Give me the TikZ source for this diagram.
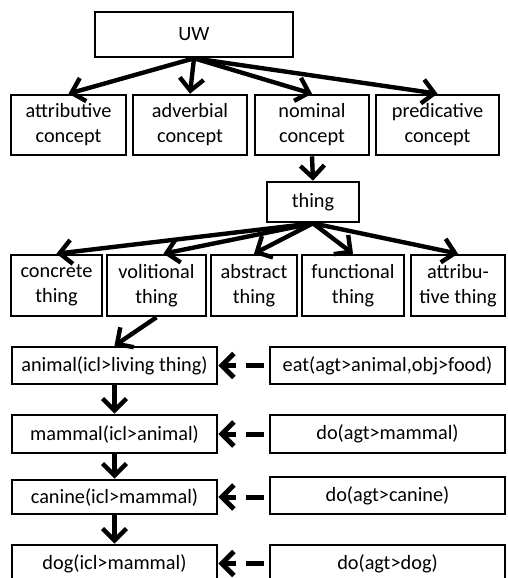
\documentclass[tikz,border=0pt]{standalone}
\usepackage{fontspec}
\setmainfont{Carlito}
\usetikzlibrary{arrows.meta,positioning}
\tikzset{
  basic/.style    = {draw, line width=2.6pt, rectangle, inner sep=0pt,
                     align=center, font=\fontsize{20.3}{25}\selectfont},
  rootbox/.style  = {basic, minimum width=198pt, minimum height=45pt},
  concept/.style  = {basic, minimum width=114pt, minimum height=60pt},
  thingbox/.style = {basic, minimum height=61pt},
  uwbox/.style    = {basic, minimum width=205pt, minimum height=37pt},
  relbox/.style   = {basic, minimum width=235pt, minimum height=37pt},
  arrow/.style    = {->, line width=4.4pt},
  dasharrow/.style = {->, line width=5pt,
                     dash pattern=on 18pt off 10pt on 40pt off 5pt,
                     dash phase=68pt}
}

\begin{document}
\begin{tikzpicture}[x=1pt, y=-1pt,
  >={Straight Barb[length=12pt,width=24pt]}]
\useasboundingbox (0,0) rectangle (507,578);
\clip (0,0) rectangle (507,578);

% root, level 1
\node[rootbox] (uw) at (194,34.5) {UW};
\node[concept, minimum width=115pt] (attr) at (68.5,125) {attributive\\concept};
\node[concept] (adv) at (190,125) {adverbial\\concept};
\node[concept] (nom) at (312,125) {nominal\\concept};
\node[concept, minimum width=123pt] (pred) at (437.5,125) {predicative\\concept};

% level 2
\node[basic, minimum width=92pt, minimum height=40pt] (thing) at (313,202) {thing};

% level 3
\node[thingbox, minimum width=91pt] (conc) at (56.5,285.5) {concrete\\thing};
\node[thingbox, minimum width=99pt] (vol) at (156.5,285.5) {volitional\\thing};
\node[thingbox, minimum width=86pt] (abst) at (254,285.5) {abstract\\thing};
\node[thingbox, minimum width=102pt] (func) at (353,285.5) {functional\\thing};
\node[thingbox, minimum width=94pt] (attrth) at (458,285.5) {attribu-\\tive thing};

% the chain of UWs and the relations pointing at them
\node[uwbox] (animal) at (114.5,365.5) {animal(icl>living thing)};
\node[uwbox, minimum height=38pt] (mammal) at (114.5,434) {mammal(icl>animal)};
\node[uwbox, minimum height=34pt] (canine) at (114.5,497) {canine(icl>mammal)};
\node[uwbox] (dog) at (114.5,563.5) {dog(icl>mammal)};

\node[relbox] (eat) at (387.5,365.5) {eat(agt>animal,obj>food)};
\node[relbox, minimum height=38pt] (domammal) at (387.5,434) {do(agt>mammal)};
\node[relbox] (docanine) at (387.5,495.5) {do(agt>canine)};
\node[relbox] (dodog) at (387.5,563.5) {do(agt>dog)};

% arrows
\foreach \n in {attr,adv,nom,pred}
  \draw[arrow] (uw.south) -- (\n.north);
\draw[arrow] (nom.south) -- (thing.north);
\foreach \n in {conc,abst,func,attrth}
  \draw[arrow] (thing.south) -- (\n.north);
\draw[arrow] (thing.south) -- ([xshift=7pt]vol.north);
\draw[arrow] (vol.south) -- (animal.north);
\draw[arrow] (animal.south) -- (mammal.north);
\draw[arrow] (mammal.south) -- (canine.north);
\draw[arrow] (canine.south) -- (dog.north);

\draw[dasharrow] (eat.west) -- (animal.east);
\draw[dasharrow] (domammal.west) -- (mammal.east);
\draw[dasharrow] (docanine.west |- canine.east) -- (canine.east);
\draw[dasharrow] (dodog.west) -- (dog.east);

\end{tikzpicture}
\end{document}
